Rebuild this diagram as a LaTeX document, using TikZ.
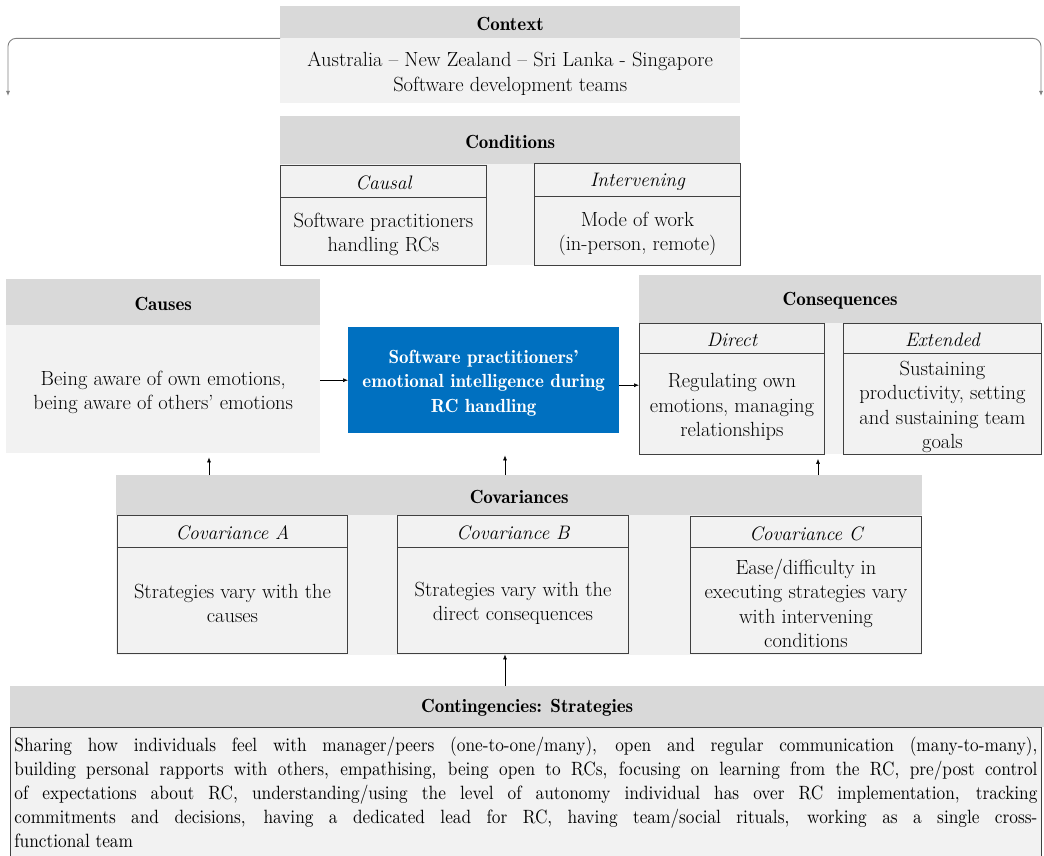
\documentclass[tikz,border=0pt]{standalone}
\usepackage{fontspec}
\newfontfamily\condfont{lmroman10-regular.otf}[FakeStretch=0.9]
\usetikzlibrary{arrows.meta}
\definecolor{hdrgray}{HTML}{D9D9D9}
\definecolor{lightgray}{HTML}{F2F2F2}
\definecolor{bordergray}{HTML}{404040}
\definecolor{linegray}{HTML}{808080}
\definecolor{mainblue}{HTML}{0070C0}
\newcommand\fnt{\fontsize{20.5}{24.3}\selectfont}
\newcommand\bfnt{\fontsize{19}{24.3}\fontseries{b}\selectfont}
\tikzset{
  base/.style={anchor=north west, inner sep=0pt},
  txt/.style={inner sep=0pt, align=center, font=\fnt},
  hdr/.style={base, fill=hdrgray},
  hdrtxt/.style={txt, font=\bfnt, yshift=-1.5},
  bg/.style={base, fill=lightgray},
  bgtxt/.style={txt, yshift=-3},
  sub/.style={base, fill=lightgray, draw=bordergray, line width=0.9pt},
  subtxt/.style={txt, font=\fontsize{19.5}{24.3}\selectfont\itshape, yshift=-1.5},
  subbody/.style={base, fill=lightgray, draw=bordergray, line width=0.9pt},
  subbodytxt/.style={txt, yshift=-3},
  blue/.style={base, fill=mainblue},
  bluetxt/.style={txt, text=white, font=\bfnt, yshift=-3},
  arr/.style={draw=black, line width=0.6pt, -{Latex[length=5pt,width=4pt]}},
  garr/.style={draw=linegray, line width=0.9pt, rounded corners=8pt, -{Latex[length=5pt,width=4pt]}}
}
% #1 style, #2 name, #3 position, #4 width, #5 height, #6 text
\newcommand\boxnode[6]{%
  \node[#1, minimum width=#4, minimum height=#5] (#2) at (#3) {};
  \node[#1txt] (#2-t) at (#2.center) {#6};}
\begin{document}
\begin{tikzpicture}[x=1pt,y=-1pt]
\useasboundingbox (0,0) rectangle (1044,856);
% Context
\boxnode{hdr}{ctxh}{280,6}{460}{32}{Context}
\boxnode{bg}{ctxb}{280,38}{460}{65}{Australia – New Zealand – Sri Lanka - Singapore\\Software development teams}
\coordinate (ctxL) at (8,96);
\coordinate (ctxR) at (1041,96);
\draw[garr] (ctxh.south west) -| (ctxL);
\draw[garr] (ctxh.south east) -| (ctxR);
% Conditions
\node[bg, minimum width=460, minimum height=149] (condbg) at (280,116) {};
\boxnode{hdr}{condh}{280,116}{460}{48}{Conditions}
\boxnode{sub}{causalt}{280,165}{206}{32}{Causal}
\boxnode{subbody}{causalb}{280,197}{206}{68}{Software practitioners\\handling RCs}
\boxnode{sub}{intt}{534,163}{206}{33}{Intervening}
\boxnode{subbody}{intb}{534,196}{206}{69}{Mode of work\\(in-person, remote)}
% Causes
\boxnode{hdr}{causesh}{6,279}{314}{46}{Causes}
\boxnode{bg}{causesb}{6,325}{314}{128}{Being aware of own emotions,\\being aware of others’ emotions}
% Central
\boxnode{blue}{central}{348,327}{271}{106}{Software practitioners’\\emotional intelligence during\\RC handling}
% Consequences
\node[bg, minimum width=402, minimum height=179] (consbg) at (639,275) {};
\boxnode{hdr}{consh}{639,275}{402}{48}{Consequences}
\boxnode{sub}{dirt}{639,323}{185}{30}{Direct}
\boxnode{subbody}{dirb}{639,353}{185}{101}{Regulating own\\emotions, managing\\relationships}
\boxnode{sub}{extt}{843,323}{198}{30}{Extended}
\boxnode{subbody}{extb}{843,353}{198}{101}{Sustaining\\productivity, setting\\and sustaining team\\goals}
% Covariances
\node[bg, minimum width=806, minimum height=180] (covbg) at (116,475) {};
\boxnode{hdr}{covh}{116,475}{806}{40}{Covariances}
\boxnode{sub}{covat}{117,515}{230}{32}{Covariance A}
\boxnode{subbody}{covab}{117,547}{230}{106}{Strategies vary with the\\causes}
\boxnode{sub}{covbt}{397,515}{231}{32}{Covariance B}
\boxnode{subbody}{covbb}{397,547}{231}{106}{Strategies vary with the\\direct consequences}
\boxnode{sub}{covct}{690,516}{231}{31}{Covariance C}
\boxnode{subbody}{covcb}{690,547}{231}{106}{Ease/difficulty in\\executing strategies vary\\with intervening\\conditions}
% Contingencies
\boxnode{hdr}{conth}{10,686}{1034}{41}{Contingencies: Strategies}
\node[base, fill=lightgray, draw=bordergray, line width=0.9pt, minimum width=1031, minimum height=129, text width=1023, inner xsep=4pt, inner ysep=4pt, align=justify, font=\condfont\fontsize{19.2}{24}\selectfont] (contb) at (10,727) {Sharing how individuals feel with manager/peers (one-to-one/many), open and regular communication (many-to-many),\linebreak building personal rapports with others, empathising, being open to RCs, focusing on learning from the RC, pre/post control\linebreak of expectations about RC, understanding/using the level of autonomy individual has over RC implementation, tracking\linebreak commitments and decisions, having a dedicated lead for RC, having team/social rituals, working as a single cross-\linebreak functional team};
% Connectors
\draw[arr] (causesb.east |- central.west) -- (central.west);
\draw[arr] ([yshift=-5]central.east) -- ([yshift=-5]central.east -| dirb.west);
\coordinate (upA) at (209,475);
\coordinate (upB) at (505,475);
\coordinate (upC) at (818,475);
\draw[arr, shorten >=4pt] (upA) -- (upA |- causesb.south);
\draw[arr, shorten >=22pt] (upB) -- (upB |- central.south);
\draw[arr, shorten >=4pt] (upC) -- (upC |- dirb.south);
\draw[arr] (upB |- conth.north) -- ([yshift=1]upB |- covbg.south);
\end{tikzpicture}
\end{document}
